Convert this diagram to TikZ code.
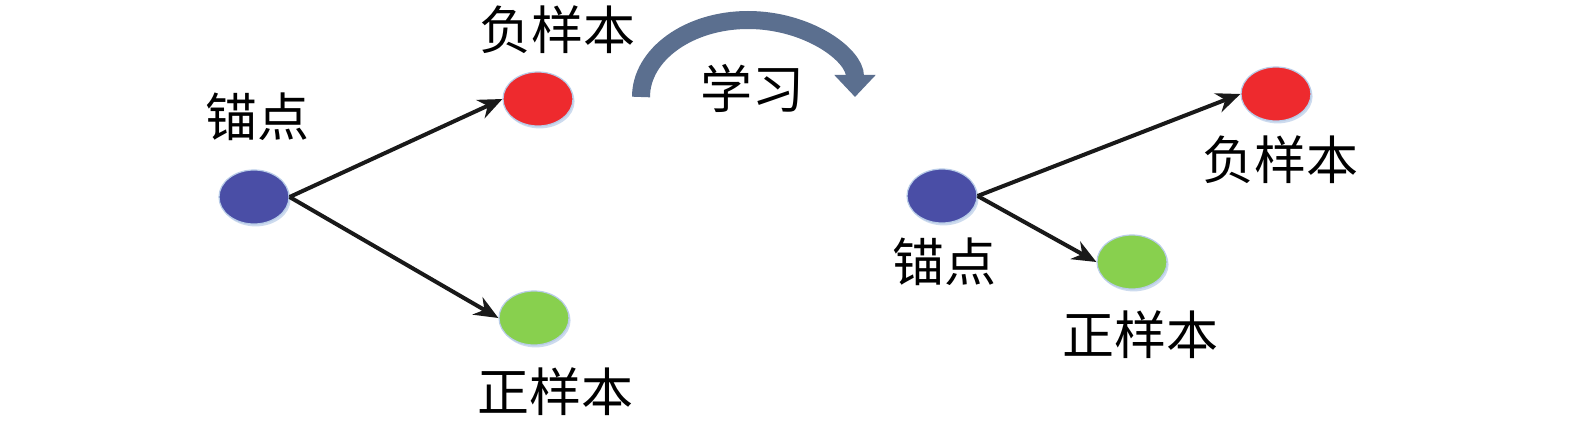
\documentclass[tikz,border=0pt]{standalone}
\usepackage{fontspec}
\newfontfamily\cjk{Noto Sans CJK SC}
\usetikzlibrary{shapes.geometric,arrows.meta,shadows}
\definecolor{ancblue}{HTML}{4A4EA6}
\definecolor{negred}{HTML}{EE2A2E}
\definecolor{posgreen}{HTML}{88D04E}
\definecolor{bandcol}{HTML}{5B6F8F}
\definecolor{glow}{HTML}{B8CCE8}
\tikzset{
  dot/.style={ellipse, minimum width=35pt, minimum height=27pt, inner sep=0pt,
    draw=glow, line width=0.6pt, drop shadow={shadow xshift=0.8pt, shadow yshift=-1.2pt, fill=glow, opacity=0.7}},
  lbl/.style={font=\cjk\fontsize{26}{30}\selectfont, inner sep=0pt},
  conn/.style={-{Stealth[length=12pt,width=10pt]}, line width=2pt, black!90},
}
\begin{document}
\begin{tikzpicture}[x=0.5pt,y=-0.5pt]
\useasboundingbox[fill=white] (0,0) rectangle (1575,444);
% left group
\node[dot, fill=ancblue] (a1) at (254,197) {};
\node[dot, fill=negred] (n1) at (538,99) {};
\node[dot, fill=posgreen] (p1) at (534,318) {};
\node[lbl] (ta1) at (257,117) {锚点};
\node[lbl] (tn1) at (557,30) {负样本};
\node[lbl] (tp1) at (555,392) {正样本};
\draw[conn] (a1.east) -- (n1.west);
\draw[conn] (a1.east) -- (p1.west);
% right group
\node[dot, fill=ancblue] (a2) at (942,196) {};
\node[dot, fill=negred] (n2) at (1276,94) {};
\node[dot, fill=posgreen] (p2) at (1132,262) {};
\node[lbl] (ta2) at (944,262) {锚点};
\node[lbl] (tn2) at (1280,160) {负样本};
\node[lbl] (tp2) at (1140,335) {正样本};
\draw[conn] (a2.east) -- (n2.west);
\draw[conn] (a2.east) -- (p2.west);
% learning arrow
\node[lbl] (tl) at (752,88) {学习};
\coordinate (bs) at (641,97);
\draw[bandcol, line width=9pt, -{Triangle[length=11pt,width=20pt]}]
  (bs) arc[start angle=180, end angle=360, x radius=107, y radius=77];
\end{tikzpicture}
\end{document}
